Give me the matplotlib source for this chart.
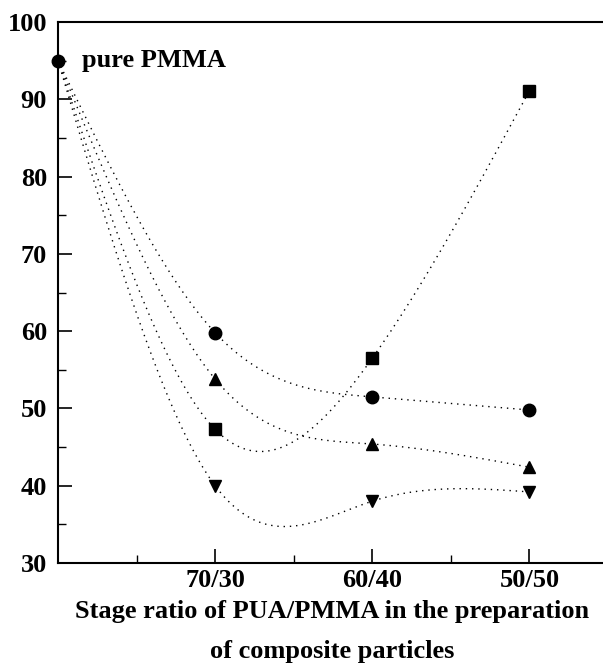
import numpy as np
import matplotlib.pyplot as plt

x_pos = [0, 1, 2, 3]
tick_labels = ["70/30", "60/40", "50/50"]
pure_pmma = 95.0

# values read at 70/30, 60/40, 50/50
squares = [47.3, 56.5, 91.1]
circles = [59.8, 51.5, 49.8]
triangles = [53.8, 45.4, 42.4]
down_tri = [40.0, 38.0, 39.2]

plt.rcParams['font.family'] = ['Liberation Serif', 'DejaVu Serif']
plt.rcParams['font.weight'] = 'bold'


def natural_spline(x, y, n=300):
    x = np.asarray(x, float)
    y = np.asarray(y, float)
    k = len(x)
    h = np.diff(x)
    A = np.zeros((k, k))
    b = np.zeros(k)
    A[0, 0] = A[-1, -1] = 1
    for i in range(1, k - 1):
        A[i, i - 1] = h[i - 1]
        A[i, i] = 2 * (h[i - 1] + h[i])
        A[i, i + 1] = h[i]
        b[i] = 3 * ((y[i + 1] - y[i]) / h[i] - (y[i] - y[i - 1]) / h[i - 1])
    c = np.linalg.solve(A, b)
    xs = np.linspace(x[0], x[-1], n)
    ys = np.empty_like(xs)
    for j, xv in enumerate(xs):
        i = min(np.searchsorted(x, xv, side='right') - 1, k - 2)
        bi = (y[i + 1] - y[i]) / h[i] - h[i] * (2 * c[i] + c[i + 1]) / 3
        di = (c[i + 1] - c[i]) / (3 * h[i])
        dx = xv - x[i]
        ys[j] = y[i] + bi * dx + c[i] * dx ** 2 + di * dx ** 3
    return xs, ys


fig = plt.figure(figsize=(6.03, 6.69), dpi=100)
ax = fig.add_axes([0.0962, 0.1584, 0.912, 0.8087])

series = [(squares, 's', 8), (circles, 'o', 9), (triangles, '^', 9), (down_tri, 'v', 9)]
for vals, mk, ms in series:
    yy = [pure_pmma] + vals
    xs, ys = natural_spline(x_pos, yy)
    ax.plot(xs, ys, color='black', linestyle=(0, (1, 3.5)), linewidth=1.0)
    ax.plot(x_pos[1:], vals, linestyle='none', marker=mk, markersize=ms,
            color='black')
ax.plot([x_pos[0]], [pure_pmma], linestyle='none', marker='o', markersize=9,
        color='black', clip_on=False, zorder=5)

ax.text(0.15, pure_pmma, "pure PMMA", fontsize=19, fontweight='bold',
        va='center', ha='left')

ax.set_xlim(0, 3.5)
ax.set_ylim(30, 100)
ax.set_xticks(x_pos[1:])
ax.set_xticklabels(tick_labels)
ax.set_xticks([0.5, 1.5, 2.5], minor=True)
ax.set_yticks(range(30, 101, 10))
ax.set_yticks(range(35, 100, 10), minor=True)
ax.tick_params(which='major', direction='in', length=10, width=1.2,
               labelsize=19, pad=8)
ax.tick_params(axis='x', which='major', pad=4)
ax.tick_params(which='minor', direction='in', length=6, width=1.0)
for sp in ax.spines.values():
    sp.set_linewidth(1.5)

fig.text(0.551, 0.056, "Stage ratio of PUA/PMMA in the preparation\nof composite particles",
         ha='center', va='center', fontsize=19, fontweight='bold', linespacing=1.9)

fig.savefig("out.png", dpi=100)
